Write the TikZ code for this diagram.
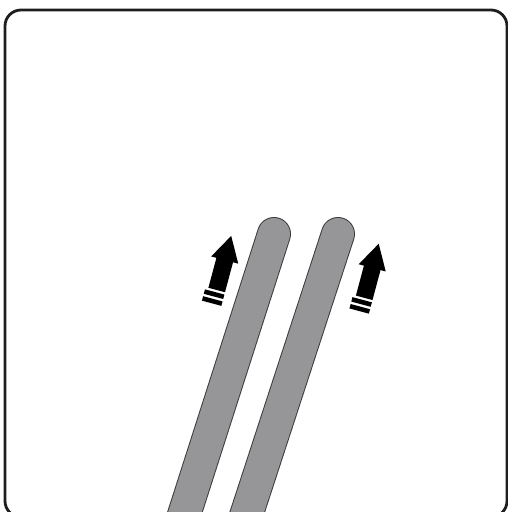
\documentclass[tikz,border=0pt]{standalone}
\definecolor{stripefill}{RGB}{150,150,152}
\definecolor{stripeedge}{RGB}{60,60,60}
\definecolor{framecol}{RGB}{30,30,30}
\tikzset{
  framebox/.style={draw=framecol, line width=2.8pt, rounded corners=16pt},
  stripeout/.style={draw=stripeedge, line width=34pt, line cap=round},
  stripein/.style={draw=stripefill, line width=32pt, line cap=round},
  motionarrow/.pic={
    \fill[black] (0,-56) -- (14,-31) -- (8.6,-31) -- (8.6,0) -- (-8.6,0) -- (-8.6,-31) -- (-14,-31) -- cycle;
    \fill[black] (-11.5,2.4) rectangle (8.6,7);
    \fill[black] (-11.5,9.5) rectangle (8.6,14.1);
  }
}
\begin{document}
\begin{tikzpicture}[x=1pt,y=-1pt]
\useasboundingbox (0,0) rectangle (508,512);
\clip (0,0) rectangle (508,512);
\draw[framebox] (5,10) rectangle (507,517);
% stripes
\coordinate (s1top) at (274,234);
\coordinate (s1bot) at (168,565);
\coordinate (s2top) at (338,234);
\coordinate (s2bot) at (230,565);
\draw[stripeout] (s1top) -- (s1bot);
\draw[stripein] (s1top) -- (s1bot);
\draw[stripeout] (s2top) -- (s2bot);
\draw[stripein] (s2top) -- (s2bot);
% arrows
\pic[rotate=-15] at (216.7,290) {motionarrow};
\pic[rotate=-15] at (364.2,297.8) {motionarrow};
\end{tikzpicture}
\end{document}
